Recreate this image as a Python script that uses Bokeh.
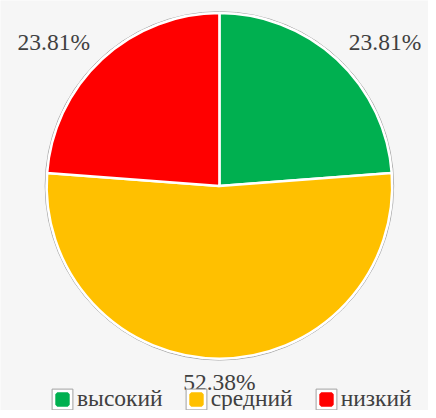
import math
from bokeh.plotting import figure
from bokeh.models import ColumnDataSource, Range1d, Legend, LegendItem
from bokeh.core.properties import value
from bokeh.embed import file_html
from bokeh.resources import INLINE

categories = ["высокий", "средний", "низкий"]
counts = [5, 11, 5]
colors = ["#00B050", "#FFC000", "#FF0000"]

W, H = 428, 410
p = figure(width=W, height=H, output_backend="svg", toolbar_location=None,
           x_range=Range1d(0, 436), y_range=Range1d(0, 418),
           min_border=0, outline_line_color=None)
p.axis.visible = False
p.grid.visible = False
p.background_fill_color = "#f6f6f6"
p.border_fill_color = "#f6f6f6"

cx, cy, R = 223, 229, 176
total = sum(counts)
fracs = [c / total for c in counts]
starts, ends, mids = [], [], []
acc = 0.0
for f in fracs:
    a0 = math.pi / 2 - acc * 2 * math.pi
    a1 = math.pi / 2 - (acc + f) * 2 * math.pi
    starts.append(a0)
    ends.append(a1)
    mids.append((a0 + a1) / 2)
    acc += f

src = ColumnDataSource(dict(cat=categories, val=counts, color=colors,
                            start=starts, end=ends))

# outer gray rim
p.circle(x=[cx], y=[cy], radius=R + 1.5, fill_color="white",
         line_color="#a8a8a8", line_width=1)
p.wedge(x=cx, y=cy, radius=R, start_angle="start", end_angle="end",
        direction="clock", fill_color="color", line_color="white",
        line_width=2.5, source=src)

# data labels
rx, ry = 248, 200
lab = ColumnDataSource(dict(
    x=[cx + rx * math.cos(m) for m in mids],
    y=[cy + ry * math.sin(m) for m in mids],
    t=[f"{f*100:.2f}%" for f in fracs]))
p.text(x="x", y="y", text="t", source=lab, text_align="center",
       text_baseline="middle", text_font=value("Liberation Serif"),
       text_font_size="23.5px", text_color="#404040")

# legend
nan = float("nan")
items = []
for cat, col in zip(categories, colors):
    box = p.quad(left=[nan], right=[nan], top=[nan], bottom=[nan],
                 fill_color="white", line_color="#a0a0a0", line_width=1)
    sq = p.scatter(x=[nan], y=[nan], marker="square", fill_color=col,
                   line_color=col, line_width=4)
    items.append(LegendItem(label=cat, renderers=[box, sq]))

legend = Legend(items=items, orientation="horizontal",
                location=(49, -2), glyph_width=26, glyph_height=26,
                label_standoff=2, spacing=20, padding=0, margin=0,
                border_line_color=None, background_fill_alpha=0,
                label_text_font="Liberation Serif", label_text_font_size="23.5px",
                label_text_color="#404040", label_text_baseline="middle")
p.add_layout(legend)

open("out.html", "w").write(file_html(p, INLINE))
